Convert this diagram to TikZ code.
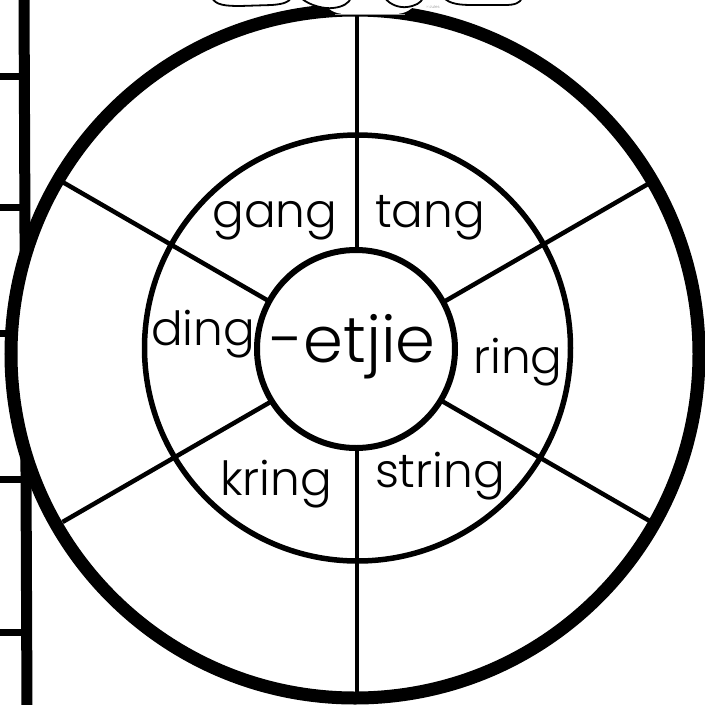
\documentclass[tikz,border=0pt]{standalone}
\usepackage{fontspec}
\setmainfont{Poppins}[UprightFont={* Light}]
\tikzset{
  word/.style={font=\fontsize{47}{47}\selectfont, inner sep=0pt, anchor=base},
  bigword/.style={font=\fontsize{64}{64}\selectfont, inner sep=0pt, anchor=base},
  spoke/.style={line width=4.5pt},
  loopline/.style={line width=1.8pt, fill=white},
}
\begin{document}
\begin{tikzpicture}[x=1pt,y=-1pt]
\useasboundingbox (0,0) rectangle (705,705);
% ladder at the left
\draw[line width=11pt] (24,-5) -- (27,710);
\foreach \yy in {76,207,333,479,632} \draw[line width=7pt] (-5,\yy) -- (25,\yy);
% outer circle
\coordinate (oc) at (355,354);
\coordinate (c) at (357,352);
\fill[white] (oc) circle[radius=344pt];
\foreach \a in {30,90,150,210,270,330}
  \draw[spoke] ([shift={(\a:98)}]c) -- ([shift={(\a:340)}]c);
\draw[line width=13pt] (oc) circle[radius=344pt];
% middle and inner circles
\draw[line width=5.5pt] (357.5,348) circle[radius=213pt];
\draw[line width=6pt, fill=white] (356,349) circle[radius=99pt];
% bow at the top
\fill[white] (318,-2) .. controls (328,10) and (335,14) .. (345,14) -- (395,14) .. controls (405,14) and (412,10) .. (422,-2) -- cycle;
\draw[black!40, line width=0.8pt] (335,14) -- (405,14);
\draw[loopline] (212,-2) .. controls (216,5) and (225,6) .. (240,6) -- (272,5) .. controls (284,4) and (289,2) .. (291,-2);
\draw[loopline] (301,-2) .. controls (310,6) and (325,9) .. (333,8) .. controls (343,7) and (349,3) .. (351,-2);
\draw[loopline] (385,-2) .. controls (390,5) and (400,8) .. (407,7) .. controls (415,6) and (421,3) .. (423,-2);
\draw[loopline] (444,-2) .. controls (450,4) and (460,5) .. (472,5) -- (505,5) .. controls (515,5) and (520,3) .. (522,-2);
\node[text=black!45, font=\fontsize{4}{4}\selectfont, inner sep=0pt] (copy) at (433,7) {©Jules};
% words
\node[word] (gang) at (275,227) {gang};
\node[word] (tang) at (430,227) {tang};
\node[word] (ding) at (203,345) {ding};
\node[word] (ring) at (518,373) {ring};
\node[word] (kring) at (276,495) {kring};
\node[word] (string) at (440,487) {string};
\node[bigword] (suffix) at (353,362) {-etjie};
\end{tikzpicture}
\end{document}
